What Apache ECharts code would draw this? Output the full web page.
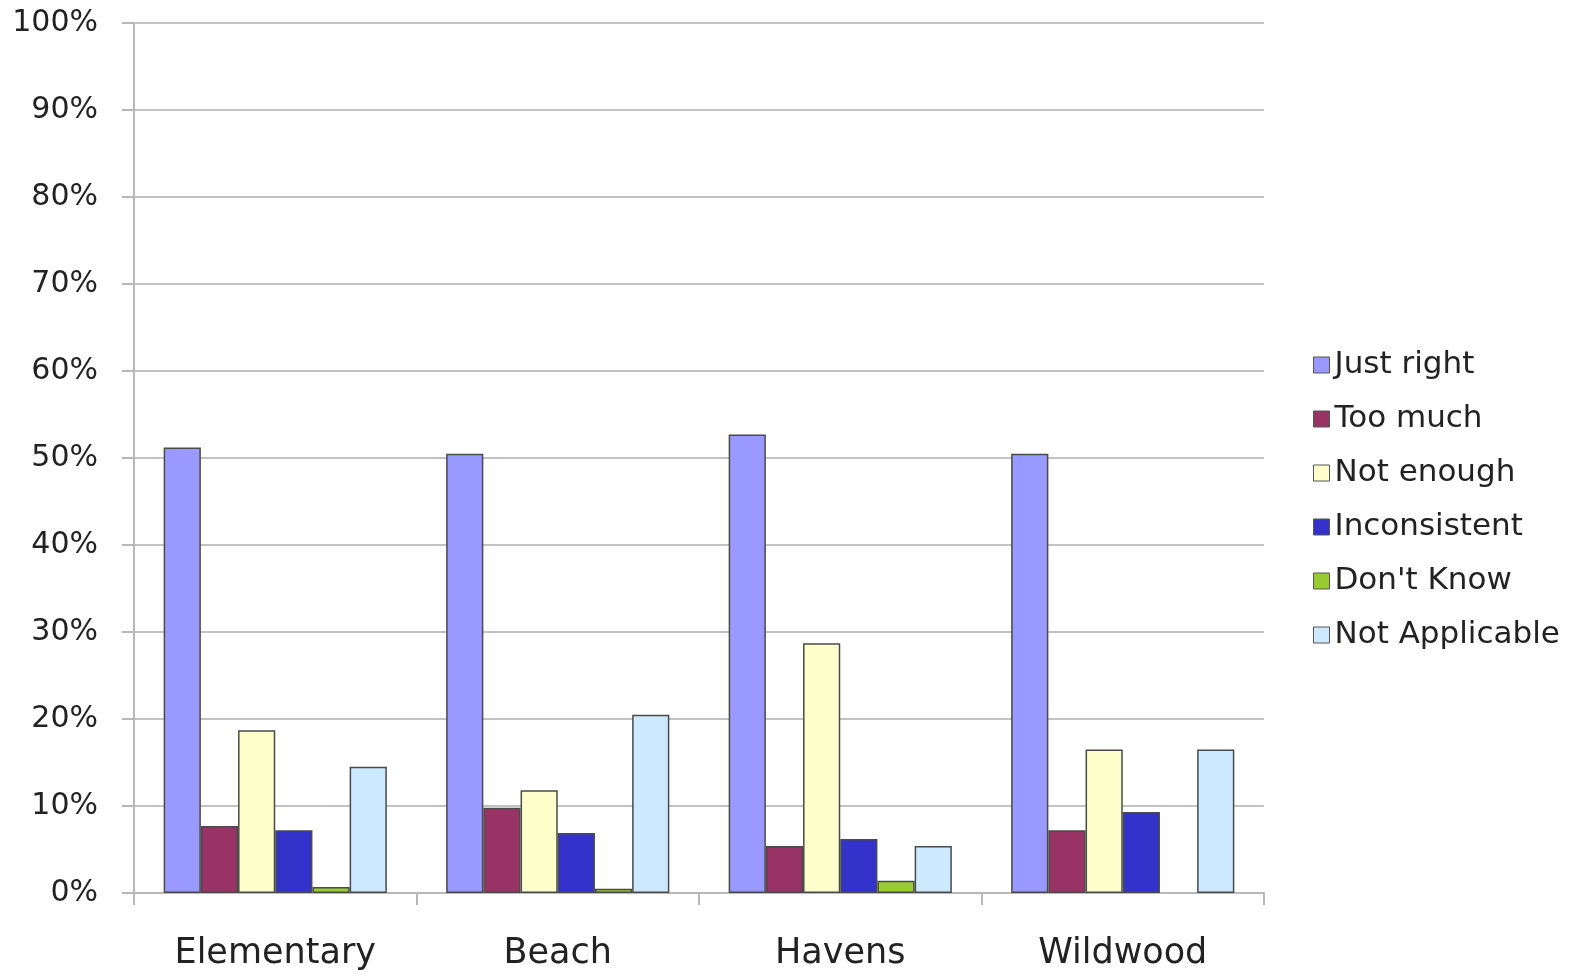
<!DOCTYPE html>
<html>
<head>
<meta charset="utf-8">
<script src="https://cdn.jsdelivr.net/npm/echarts@6/dist/echarts.min.js"></script>
<style>
html,body{margin:0;padding:0;background:#fff;}
#chart{width:1584px;height:976px;}
</style>
</head>
<body>
<div id="chart"></div>
<script>
const categories = ['Elementary', 'Beach', 'Havens', 'Wildwood'];
const seriesNames = ['Just right', 'Too much', 'Not enough', 'Inconsistent', "Don't Know", 'Not Applicable'];
const justRight = [51.2, 50.5, 52.7, 50.5];
const tooMuch = [7.7, 9.8, 5.4, 7.2];
const notEnough = [18.7, 11.8, 28.7, 16.5];
const inconsistent = [7.2, 6.9, 6.2, 9.3];
const dontKnow = [0.7, 0.5, 1.4, 0];
const notApplicable = [14.5, 20.5, 5.4, 16.5];
const yTicks = [0, 10, 20, 30, 40, 50, 60, 70, 80, 90, 100];

const colors = ['#9999FF', '#993366', '#FFFFCC', '#3333CC', '#99CC33', '#CCE9FF'];
const values = [justRight, tooMuch, notEnough, inconsistent, dontKnow, notApplicable];
const FONT = '"DejaVu Sans", sans-serif';

const chart = echarts.init(document.getElementById('chart'), null, {renderer: 'canvas'});
chart.setOption({
  animation: false,
  backgroundColor: '#ffffff',
  grid: {left: 134, right: 320, top: 23, bottom: 83, containLabel: false},
  legend: {
    orient: 'vertical',
    left: 1308,
    top: 344,
    itemWidth: 16,
    itemHeight: 16,
    itemGap: 22,
    icon: 'rect',
    itemStyle: {borderColor: '#555', borderWidth: 1},
    textStyle: {fontFamily: FONT, fontSize: 31, color: '#222', lineHeight: 32, padding: [0, 0, 0, 0]},
    data: seriesNames
  },
  xAxis: {
    type: 'category',
    data: categories,
    axisLine: {show: true, lineStyle: {color: '#b8b8b8', width: 2}},
    axisTick: {show: true, length: 12, interval: 0, alignWithLabel: false, lineStyle: {color: '#b8b8b8', width: 2}},
    axisLabel: {fontFamily: FONT, fontSize: 35, color: '#222', margin: 43}
  },
  yAxis: {
    type: 'value',
    min: yTicks[0],
    max: yTicks[yTicks.length - 1],
    interval: 10,
    axisLine: {show: true, lineStyle: {color: '#b8b8b8', width: 2}},
    axisTick: {show: true, length: 12, lineStyle: {color: '#b8b8b8', width: 2}},
    splitLine: {show: true, lineStyle: {color: '#c2c2c2', width: 2}},
    axisLabel: {fontFamily: FONT, fontSize: 30, color: '#222', margin: 36, formatter: '{value}%'}
  },
  series: seriesNames.map((name, i) => ({
    name: name,
    type: 'bar',
    data: values[i].map(v => ({value: v, itemStyle: {borderWidth: v === 0 ? 0 : 1.5}})),
    barGap: '0%',
    barCategoryGap: '21%',
    itemStyle: {color: colors[i], borderColor: '#4a4a4a', borderWidth: 1.5}
  }))
});
</script>
</body>
</html>
